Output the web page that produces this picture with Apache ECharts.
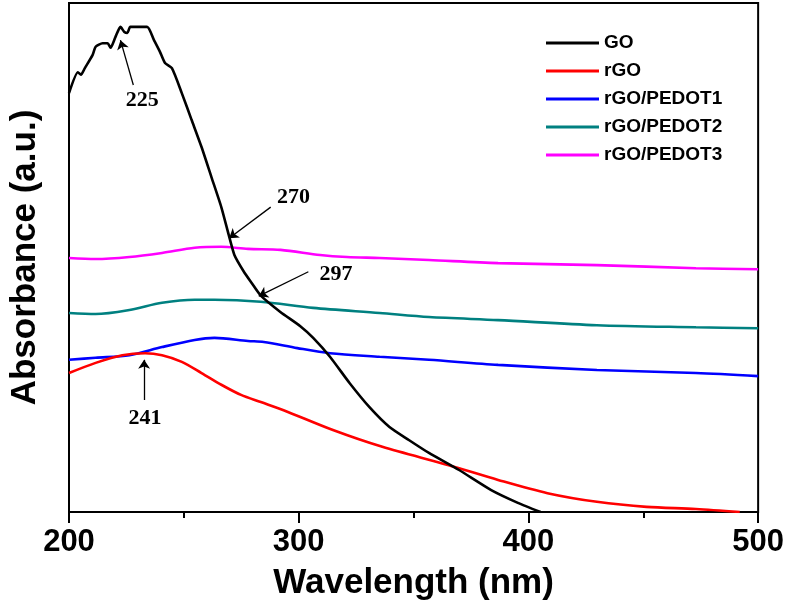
<!DOCTYPE html>
<html>
<head>
<meta charset="utf-8">
<script src="https://cdn.jsdelivr.net/npm/echarts@6/dist/echarts.min.js"></script>
<style>
  html, body { margin: 0; padding: 0; background: #fff; }
  #chart { width: 787px; height: 608px; }
</style>
</head>
<body>
<div id="chart"></div>
<script>
// wavelength (nm) / absorbance (a.u., arbitrary 0-100)
const goX = [200, 203.9, 205.2, 206.9, 210.3, 211.6, 214.6, 216.8, 218.1, 220.2, 222.4, 224.1, 225.4, 226.7, 234, 237, 239.6, 241.8, 244.8, 249.1, 253.4, 257.7, 262, 266.3, 269.5, 272, 276, 279.2, 283.5, 292, 300.7, 306.3, 313.6, 322.2, 330.8, 339.5, 348.1, 356.7, 369.6, 383.8, 395.4, 405.3];
const goY = [82.3, 86.4, 85.9, 87.2, 89.8, 91.4, 92.1, 92.1, 91.2, 93.3, 95.3, 94.3, 94.1, 95.3, 95.3, 92.7, 90.4, 88.2, 87.2, 82.3, 77.0, 71.7, 65.8, 59.9, 54.5, 50.5, 47.3, 45.2, 42.5, 39.3, 36.5, 34.2, 30.5, 25.3, 20.6, 16.7, 14.1, 11.6, 8.3, 4.3, 1.8, 0];

const rgoX = [200, 211.6, 223.2, 233.1, 240.5, 249.1, 257.7, 266.3, 274.9, 283.5, 293.4, 314.9, 336.4, 365.3, 386.8, 408.3, 429.8, 451.4, 472.9, 492];
const rgoY = [27.3, 29.3, 30.8, 31.2, 30.8, 29.5, 27.3, 25.0, 23.0, 21.6, 20.0, 16.1, 12.8, 9.2, 6.3, 3.7, 2.0, 1.0, 0.6, 0];

const p1X = [200, 211.6, 226.3, 240.5, 254.7, 263.3, 277.9, 284.8, 299.4, 313.6, 335.2, 356.7, 386.8, 429.8, 472.9, 500];
const p1Y = [29.9, 30.3, 30.8, 32.4, 33.8, 34.2, 33.6, 33.4, 32.2, 31.2, 30.5, 29.9, 28.9, 27.9, 27.3, 26.7];

const p2X = [200, 211.6, 226.3, 240.5, 254.7, 263.3, 283.5, 306.3, 335.2, 356.7, 386.8, 429.8, 472.9, 500];
const p2Y = [39.1, 38.9, 39.7, 41.1, 41.7, 41.7, 41.3, 40.1, 39.1, 38.3, 37.7, 36.7, 36.3, 36.1];

const p3X = [200, 211.6, 226.3, 240.5, 254.7, 266.3, 277.9, 292.1, 309.3, 321, 335.2, 356.7, 386.8, 429.8, 472.9, 500];
const p3Y = [49.9, 49.7, 50.1, 50.9, 51.9, 52.1, 51.7, 51.5, 50.5, 50.1, 49.9, 49.5, 48.9, 48.5, 47.9, 47.7];

const names = ['GO', 'rGO', 'rGO/PEDOT1', 'rGO/PEDOT2', 'rGO/PEDOT3'];
const colors = ['#000000', '#ff0000', '#0000ff', '#008080', '#ff00ff'];

// peak annotations: label text, text position, arrow start, arrow tip
const noteText = ['225', '270', '297', '241'];
const noteAt = [[231.9, 80.9], [297.7, 61.9], [316.2, 46.6], [233.1, 18.5]];
const arrowFrom = [[228.0, 83.9], [287.8, 59.9], [304.2, 47.2], [232.7, 22.0]];
const arrowTo = [[222.4, 92.7], [269.7, 53.8], [282.6, 42.4], [232.7, 29.9]];

const zip = (xs, ys) => xs.map((x, i) => [x, ys[i]]);
const sets = [zip(goX, goY), zip(rgoX, rgoY), zip(p1X, p1Y), zip(p2X, p2Y), zip(p3X, p3Y)];

const font = 'Liberation Sans, Arial, sans-serif';

const series = names.map((n, i) => ({
  name: n,
  type: 'line',
  data: sets[i],
  symbol: 'none',
  smooth: i === 0 ? 0.2 : 0.3,
  lineStyle: { color: colors[i], width: 2.6 },
  itemStyle: { color: colors[i] },
  z: 5 - i
}));

series[0].markLine = {
  silent: true,
  symbol: ['none', 'arrow'],
  symbolSize: 9,
  label: { show: false },
  lineStyle: { color: '#000', width: 1.3, type: 'solid' },
  data: arrowFrom.map((p, i) => [{ coord: p }, { coord: arrowTo[i] }])
};
series[0].markPoint = {
  silent: true,
  symbol: 'circle',
  symbolSize: 0,
  label: {
    show: true,
    position: 'inside',
    formatter: p => p.name,
    color: '#000',
    fontFamily: 'Liberation Serif, Times New Roman, serif',
    fontWeight: 'bold',
    fontSize: 22
  },
  data: noteText.map((t, i) => ({ name: t, coord: noteAt[i] }))
};

const chart = echarts.init(document.getElementById('chart'));
chart.setOption({
  animation: false,
  backgroundColor: '#fff',
  grid: { left: 66, right: 23, top: 3, bottom: 96, show: true, borderColor: '#000', borderWidth: 2 },
  legend: {
    data: names,
    orient: 'vertical',
    left: 541,
    top: 28,
    icon: 'rect',
    itemWidth: 53,
    itemHeight: 3,
    itemGap: 8,
    textStyle: { fontFamily: font, fontWeight: 'bold', fontSize: 19, lineHeight: 20, color: '#000' }
  },
  xAxis: {
    type: 'value',
    min: 200,
    max: 500,
    interval: 100,
    name: 'Wavelength (nm)',
    nameLocation: 'middle',
    nameGap: 54,
    nameTextStyle: { fontFamily: font, fontWeight: 'bold', fontSize: 35, color: '#000' },
    axisLine: { lineStyle: { color: '#000', width: 2 } },
    axisTick: { inside: false, length: 11, lineStyle: { width: 2 } },
    minorTick: { show: true, splitNumber: 2, length: 6, lineStyle: { color: '#000', width: 2 } },
    axisLabel: { margin: 15, fontFamily: font, fontWeight: 'bold', fontSize: 31, color: '#000' },
    splitLine: { show: false }
  },
  yAxis: {
    type: 'value',
    min: 0,
    max: 100,
    name: 'Absorbance (a.u.)',
    nameLocation: 'middle',
    nameGap: 26,
    nameTextStyle: { fontFamily: font, fontWeight: 'bold', fontSize: 35, color: '#000' },
    axisLine: { lineStyle: { color: '#000', width: 2 } },
    axisTick: { show: false },
    axisLabel: { show: false },
    splitLine: { show: false }
  },
  series: series
});
</script>
</body>
</html>
